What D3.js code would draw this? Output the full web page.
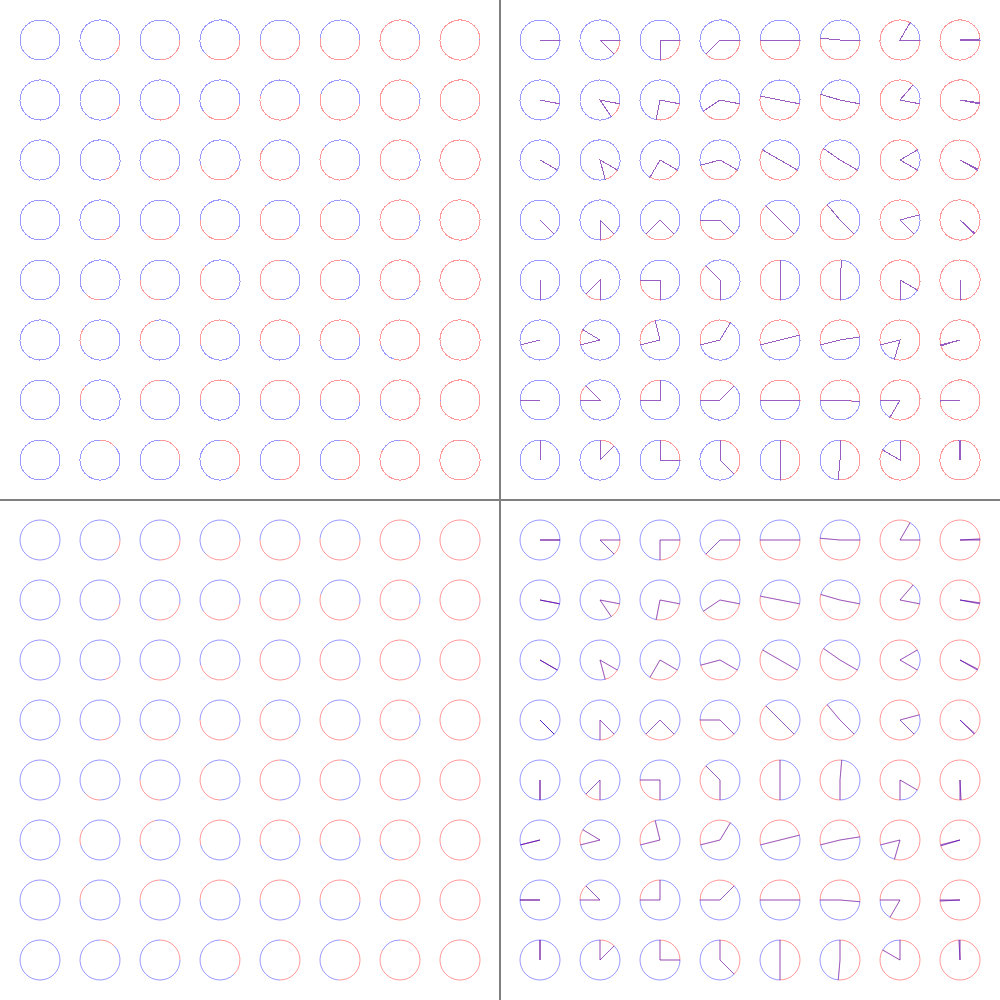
<!DOCTYPE html>
<html><head><meta charset="utf-8">
<script src="https://cdn.jsdelivr.net/npm/d3@7"></script>
<style>html,body{margin:0;padding:0;background:#fff}svg{display:block}</style>
</head><body>
<svg id="chart" width="1000" height="1000"></svg>
<script>
// Start angle of each row (degrees, clockwise from 3 o'clock)
const startAngles = [0, 11, 30, 45, 90, 166, 180, 270];
// Sweep of the red arc in each column (degrees)
const sweepAngles = [0, 45, 90, 135, 180, 185, 300, 357];
// Panels: arcs only / wedges, aliased / antialiased
const panelWedge = [false, true, false, true];
const panelAntialias = [false, false, true, true];

const svg = d3.select("#chart");
svg.append("rect").attr("width", 1000).attr("height", 1000).attr("fill", "#fff");

const R = 20;
const pos = d3.scalePoint().domain(d3.range(8)).range([40, 460]);
const panelOffset = d3.scalePoint().domain([0, 1]).range([0, 500]);
const rad = d => d * Math.PI / 180;

function redPath(cx, cy, s, e, wedge) {
  const p = d3.path();
  if (wedge) p.moveTo(cx, cy);
  p.arc(cx, cy, R, s, e, false);
  if (wedge) p.closePath();
  return p.toString();
}
function bluePath(cx, cy, s, e, wedge) {
  const p = d3.path();
  if (wedge) p.moveTo(cx, cy);
  p.arc(cx, cy, R, e, s + 2 * Math.PI, false);
  if (wedge) p.closePath();
  return p.toString();
}

for (let k = 0; k < 4; k++) {
  const ox = panelOffset(k % 2), oy = panelOffset(Math.floor(k / 2));
  const g = svg.append("g")
    .attr("transform", `translate(${ox},${oy})`)
    .attr("shape-rendering", panelAntialias[k] ? "auto" : "crispEdges");
  startAngles.forEach((sa, r) => {
    sweepAngles.forEach((sw, c) => {
      const cx = pos(c), cy = pos(r);
      const s = rad(sa), e = rad(sa + sw);
      g.append("path").attr("d", redPath(cx, cy, s, e, panelWedge[k]))
        .attr("fill", "none").attr("stroke", "rgba(255,0,0,0.4)").attr("stroke-width", 1);
      g.append("path").attr("d", bluePath(cx, cy, s, e, panelWedge[k]))
        .attr("fill", "none").attr("stroke", "rgba(0,0,255,0.4)").attr("stroke-width", 1);
    });
  });
}

// Dividers
svg.append("line").attr("x1", 500).attr("x2", 500).attr("y1", 0).attr("y2", 1000)
  .attr("stroke", "#808080").attr("stroke-width", 2).attr("shape-rendering", "crispEdges");
svg.append("line").attr("x1", 0).attr("x2", 1000).attr("y1", 500).attr("y2", 500)
  .attr("stroke", "#808080").attr("stroke-width", 2).attr("shape-rendering", "crispEdges");
</script>
</body></html>
